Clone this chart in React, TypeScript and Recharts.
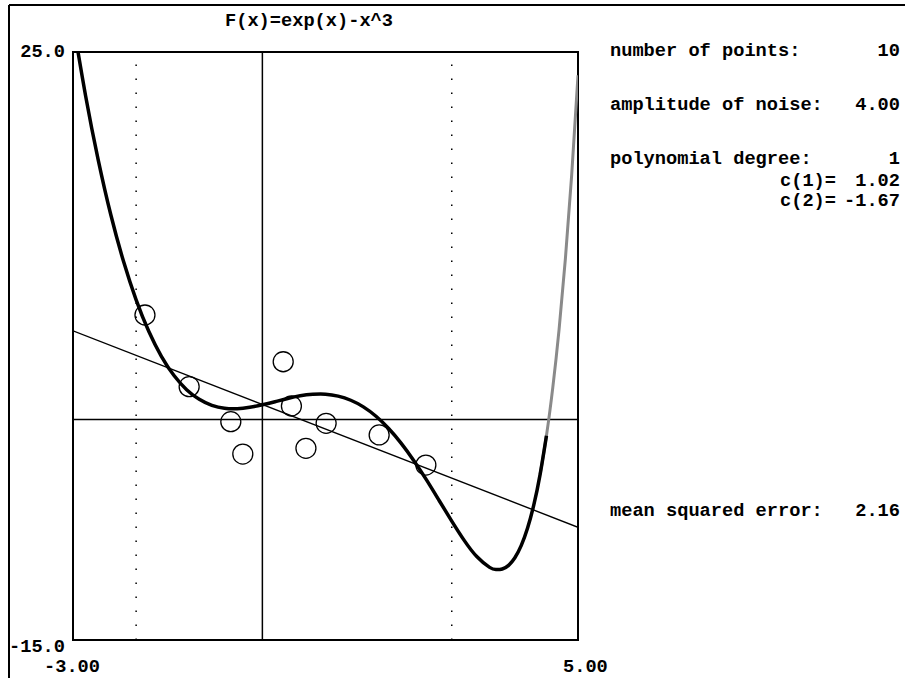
import React from 'react';
import { ComposedChart, Line, Scatter, XAxis, YAxis, ReferenceLine, ReferenceArea } from 'recharts';

// ---- data ----
const title = 'F(x)=exp(x)-x^3';

const curveX = [-3, -2.8, -2.6, -2.4, -2.2, -2, -1.8, -1.6, -1.4, -1.2, -1, -0.8, -0.6, -0.4, -0.2, 0, 0.2, 0.4, 0.6, 0.8, 1, 1.2, 1.4, 1.6, 1.8, 2, 2.2, 2.4, 2.6, 2.8, 3, 3.2, 3.4, 3.6, 3.7, 3.8, 3.9, 4, 4.1, 4.2, 4.3, 4.4, 4.5];
const curveY = [27.05, 22.01, 17.65, 13.91, 10.76, 8.14, 6.0, 4.3, 2.99, 2.03, 1.37, 0.96, 0.76, 0.73, 0.83, 1.0, 1.21, 1.43, 1.61, 1.71, 1.72, 1.59, 1.31, 0.86, 0.22, -0.61, -1.62, -2.8, -4.11, -5.51, -6.91, -8.24, -9.34, -10.06, -10.21, -10.17, -9.92, -9.4, -8.58, -7.4, -5.81, -3.73, -1.11];

const steepX = [4.4, 4.5, 4.6, 4.7, 4.8, 4.9, 5];
const steepY = [-3.73, -1.11, 2.15, 6.12, 10.92, 16.64, 23.41];

const pointX = [-1.86, -1.16, -0.5, -0.31, 0.33, 0.46, 0.69, 1.01, 1.85, 2.59];
const pointY = [7.11, 2.23, -0.15, -2.35, 3.93, 0.92, -1.96, -0.26, -1.05, -3.1];

const fitX = [-3, 5];
const fitY = [6.03, -7.33];

const rangeMarks = [-2, 3];

const xTicks = [-3, 5];
const xTickLabels = ['-3.00', '5.00'];
const yTicks = [25, -15];
const yTickLabels = ['25.0', '-15.0'];

const infoLabels = ['number of points:', 'amplitude of noise:', 'polynomial degree:', 'mean squared error:'];
const infoValues = ['10', '4.00', '1', '2.16'];
const coefLabels = ['c(1)=', 'c(2)='];
const coefValues = ['1.02', '-1.67'];

// ---- tables built from the arrays ----
const curveData = curveX.map((x, i) => ({ x, y: curveY[i] }));
const steepData = steepX.map((x, i) => ({ x, y: steepY[i] }));
const pointData = pointX.map((x, i) => ({ x, y: pointY[i] }));
const fitData = fitX.map((x, i) => ({ x, y: fitY[i] }));

const FONT = 'Liberation Mono, DejaVu Sans Mono, monospace';
const FS = 19;
const CW = 11.2;

const T = ({ x, y, s, anchor = 'start' }: { x: number; y: number; s: string; anchor?: string }) => (
  <text
    x={x}
    y={y}
    fontFamily={FONT}
    fontSize={FS}
    fontWeight="bold"
    fill="#000"
    textAnchor={anchor as any}
    textLength={s.length * CW}
    lengthAdjust="spacingAndGlyphs"
    style={{ whiteSpace: 'pre' }}
  >
    {s}
  </text>
);

const XTick = (props: any) => {
  const { x, index } = props;
  const label = xTickLabels[index];
  if (index === 0) return <T x={x - 1} y={672} s={label} anchor="middle" />;
  return <T x={x - 15} y={672} s={label} />;
};

const YTick = (props: any) => {
  const { y, index } = props;
  const label = yTickLabels[index];
  return <T x={65} y={index === 0 ? y + 5 : y + 12} s={label} anchor="end" />;
};

const Ring = (props: any) => {
  const { cx, cy } = props;
  return <circle cx={cx} cy={cy} r={10} fill="none" stroke="#000" strokeWidth={1.3} />;
};

const infoBaselines = [56, 110, 164, 516];
const coefBaselines = [186, 206];

export default function App() {
  return (
    <div style={{ position: 'absolute', left: 0, top: 0, width: 905, height: 678, background: '#fff' }}>
      <ComposedChart width={905} height={678} margin={{ top: 52, right: 327, bottom: 0, left: 0 }}>
        <XAxis
          type="number"
          dataKey="x"
          domain={[-3, 5]}
          ticks={xTicks}
          allowDataOverflow
          axisLine={false}
          tickLine={false}
          height={38}
          tick={<XTick />}
          interval={0}
        />
        <YAxis
          type="number"
          dataKey="y"
          domain={[-15, 25]}
          ticks={yTicks}
          allowDataOverflow
          axisLine={false}
          tickLine={false}
          width={73}
          tick={<YTick />}
          interval={0}
        />
        <ReferenceArea x1={-3} x2={5} y1={-15} y2={25} fill="none" fillOpacity={0} stroke="#000" strokeWidth={2} />
        {rangeMarks.map((m) => (
          <ReferenceLine key={m} x={m} stroke="#000" strokeWidth={1.5} strokeDasharray="1.5 12.5" />
        ))}
        <ReferenceLine x={0} stroke="#000" strokeWidth={1.5} />
        <ReferenceLine y={0} stroke="#000" strokeWidth={1.5} />
        <Line data={fitData} dataKey="y" type="linear" stroke="#000" strokeWidth={1.4} dot={false} isAnimationActive={false} />
        <Line data={steepData} dataKey="y" type="natural" stroke="#8a8a8a" strokeWidth={3} dot={false} isAnimationActive={false} />
        <Line data={curveData} dataKey="y" type="natural" stroke="#000" strokeWidth={3.5} dot={false} isAnimationActive={false} />
        <Scatter data={pointData} dataKey="y" shape={<Ring />} isAnimationActive={false} />
      </ComposedChart>
      <svg width={905} height={678} style={{ position: 'absolute', left: 0, top: 0, pointerEvents: 'none' }}>
        <line x1={9} y1={5} x2={905} y2={5} stroke="#000" strokeWidth={2} />
        <line x1={9} y1={5} x2={9} y2={678} stroke="#000" strokeWidth={2} />
        <T x={309} y={26} s={title} anchor="middle" />
        {infoLabels.map((s, i) => (
          <T key={s} x={610} y={infoBaselines[i]} s={s} />
        ))}
        {infoValues.map((s, i) => (
          <T key={'v' + i} x={900} y={infoBaselines[i]} s={s} anchor="end" />
        ))}
        {coefLabels.map((s, i) => (
          <T key={s} x={780} y={coefBaselines[i]} s={s} />
        ))}
        {coefValues.map((s, i) => (
          <T key={'c' + i} x={900} y={coefBaselines[i]} s={s} anchor="end" />
        ))}
      </svg>
    </div>
  );
}
